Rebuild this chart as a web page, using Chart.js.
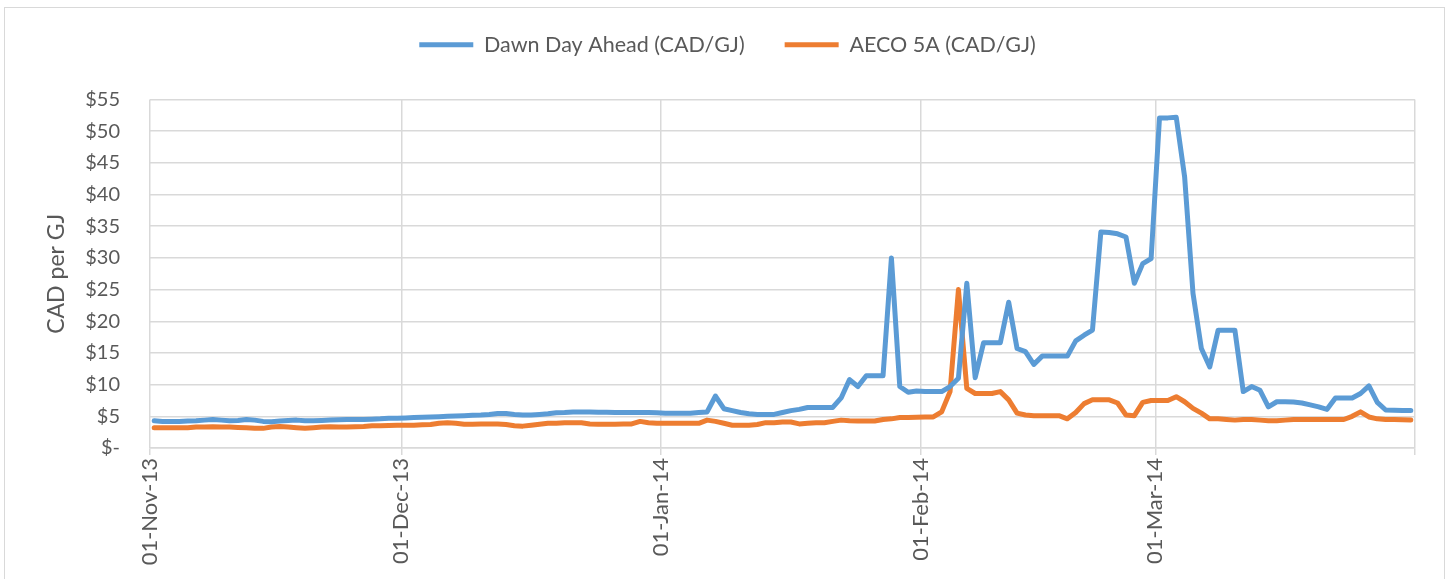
<!DOCTYPE html>
<html>
<head>
<meta charset="utf-8">
<script src="https://cdn.jsdelivr.net/npm/chart.js@4.4.1/dist/chart.umd.min.js"></script>
<style>
  html, body { margin: 0; padding: 0; background: #fff; overflow: hidden; }
  .frame { position: absolute; left: 4px; top: 7px; width: 1439px; height: 620px; border: 1px solid #d9d9d9; }
  #chart { position: absolute; left: 0; top: 0; }
</style>
</head>
<body>
<div class="frame"></div>
<canvas id="chart" width="1449" height="579"></canvas>
<script>
// daily prices, 01-Nov-13 .. 31-Mar-14
var dawn = [
  4.3, 4.2, 4.2, 4.2, 4.25, 4.3, 4.4, 4.5, 4.4, 4.3, 4.35, 4.5, 4.4, 4.2, 4.15, 4.25, 4.35, 4.4, 4.3, 4.3, 4.35, 4.4, 4.45, 4.5, 4.5, 4.5, 4.55, 4.6, 4.7, 4.7,
  4.75, 4.8, 4.85, 4.9, 4.95, 5.0, 5.05, 5.1, 5.15, 5.2, 5.3, 5.45, 5.45, 5.3, 5.2, 5.2, 5.3, 5.4, 5.55, 5.6, 5.7, 5.7, 5.7, 5.65, 5.65, 5.6, 5.6, 5.6, 5.6, 5.6, 5.55,
  5.5, 5.5, 5.5, 5.5, 5.6, 5.7, 8.2, 6.2, 5.9, 5.6, 5.4, 5.3, 5.3, 5.3, 5.6, 5.9, 6.1, 6.4, 6.4, 6.4, 6.4, 7.9, 10.8, 9.7, 11.4, 11.4, 11.4, 30.0, 9.7, 8.8, 9.0,
  8.9, 8.9, 8.9, 9.7, 11.0, 26.0, 11.1, 16.6, 16.6, 16.6, 23.0, 15.7, 15.2, 13.2, 14.5, 14.5, 14.5, 14.5, 16.9, 17.8, 18.6, 34.1, 34.0, 33.8, 33.3, 26.0, 29.1, 29.9,
  52.1, 52.1, 52.2, 42.8, 24.4, 15.7, 12.8, 18.6, 18.6, 18.6, 8.9, 9.7, 9.1, 6.5, 7.3, 7.3, 7.25, 7.1, 6.8, 6.5, 6.1, 7.9, 7.9, 7.9, 8.6, 9.8, 7.2, 6.0, 5.95, 5.9, 5.9
];
var aeco = [
  3.2, 3.2, 3.2, 3.2, 3.2, 3.3, 3.3, 3.35, 3.3, 3.3, 3.25, 3.2, 3.1, 3.1, 3.3, 3.4, 3.3, 3.2, 3.1, 3.2, 3.3, 3.35, 3.3, 3.3, 3.35, 3.4, 3.5, 3.5, 3.55, 3.6,
  3.6, 3.6, 3.65, 3.7, 3.9, 4.0, 3.9, 3.75, 3.75, 3.8, 3.8, 3.8, 3.7, 3.5, 3.45, 3.6, 3.75, 3.9, 3.9, 4.0, 4.0, 4.0, 3.8, 3.75, 3.75, 3.75, 3.8, 3.8, 4.2, 4.0, 3.9,
  3.9, 3.9, 3.9, 3.9, 3.9, 4.4, 4.2, 3.9, 3.6, 3.6, 3.6, 3.7, 4.0, 4.0, 4.1, 4.1, 3.8, 3.9, 4.0, 4.0, 4.2, 4.4, 4.3, 4.25, 4.25, 4.25, 4.5, 4.6, 4.8, 4.8, 4.85,
  4.9, 4.9, 5.7, 8.9, 25.0, 9.4, 8.6, 8.6, 8.6, 8.9, 7.6, 5.5, 5.2, 5.1, 5.1, 5.1, 5.1, 4.6, 5.6, 7.0, 7.6, 7.6, 7.6, 7.1, 5.2, 5.1, 7.2, 7.5,
  7.5, 7.5, 8.1, 7.3, 6.25, 5.5, 4.6, 4.6, 4.5, 4.4, 4.5, 4.5, 4.4, 4.3, 4.3, 4.4, 4.5, 4.5, 4.5, 4.5, 4.5, 4.5, 4.5, 5.0, 5.7, 4.9, 4.6, 4.5, 4.5, 4.45, 4.4
];
var seriesNames = ["Dawn Day Ahead (CAD/GJ)", "AECO 5A (CAD/GJ)"];
var months = ["Jan", "Feb", "Mar", "Apr", "May", "Jun", "Jul", "Aug", "Sep", "Oct", "Nov", "Dec"];

var blue = "#5b9bd5";
var orange = "#ed7d31";
var gridColor = "#d9d9d9";
var textColor = "#595959";

// one category per day
var dates = [];
for (var i = 0; i < dawn.length; i++) {
    var d = new Date(2013, 10, 1 + i);
    var dd = d.getDate() < 10 ? "0" + d.getDate() : "" + d.getDate();
    dates.push(dd + "-" + months[d.getMonth()] + "-" + String(d.getFullYear()).slice(2));
}

function isMonthStart(label) {
    return label && label.indexOf("01-") === 0;
}

// more room under the legend, and centre it on the whole canvas
var legendSpace = {
    id: "legendSpace",
    afterInit: function(chart) {
        var fit = chart.legend.fit;
        chart.legend.fit = function() {
            fit.call(this);
            this.height += 34;
        };
    },
    afterLayout: function(chart) {
        chart.legend.left += 20;
        chart.legend.right += 20;
    }
};

new Chart(document.getElementById("chart"), {
    type: "line",
    data: {
        labels: dates,
        datasets: [{
            label: seriesNames[0],
            data: dawn,
            borderColor: blue,
            backgroundColor: blue,
            borderWidth: 5,
            pointRadius: 0,
            tension: 0,
            borderJoinStyle: "round",
            borderCapStyle: "round"
        }, {
            label: seriesNames[1],
            data: aeco,
            borderColor: orange,
            backgroundColor: orange,
            borderWidth: 5,
            pointRadius: 0,
            tension: 0,
            borderJoinStyle: "round",
            borderCapStyle: "round"
        }]
    },
    plugins: [legendSpace],
    options: {
        responsive: false,
        devicePixelRatio: 1,
        animation: false,
        layout: { padding: { top: -6, right: 34, bottom: 0, left: 0 } },
        plugins: {
            tooltip: { enabled: false },
            legend: {
                position: "top",
                labels: {
                    boxWidth: 54,
                    boxHeight: 5,
                    padding: 40,
                    color: textColor,
                    font: { family: "Lato", size: 21.5 },
                    generateLabels: function(chart) {
                        var items = Chart.defaults.plugins.legend.labels.generateLabels(chart);
                        items.forEach(function(it) { it.lineWidth = 0; });
                        return items;
                    }
                }
            }
        },
        scales: {
            x: {
                type: "category",
                offset: true,
                afterFit: function(scale) { scale.height = 131; },
                grid: {
                    offset: true,
                    lineWidth: 1.5,
                    tickLength: 7,
                    color: function(ctx) {
                        if (ctx.type !== "tick") return gridColor;
                        return isMonthStart(dates[ctx.index]) ? gridColor : "rgba(0,0,0,0)";
                    }
                },
                border: { color: gridColor, width: 1.5 },
                ticks: {
                    autoSkip: false,
                    minRotation: 90,
                    maxRotation: 90,
                    labelOffset: -4.19,
                    padding: 3,
                    color: textColor,
                    font: { family: "Lato", size: 22 },
                    callback: function(value) {
                        var lbl = this.getLabelForValue(value);
                        return isMonthStart(lbl) ? lbl : "";
                    }
                }
            },
            y: {
                min: 0,
                max: 55,
                afterFit: function(scale) { scale.width = 150; },
                grid: { color: gridColor, lineWidth: 1.5, drawTicks: false },
                border: { display: false },
                title: {
                    display: true,
                    text: "CAD per GJ",
                    color: textColor,
                    font: { family: "Lato", size: 23 },
                    padding: { top: 43, bottom: 0 }
                },
                ticks: {
                    stepSize: 5,
                    padding: 30,
                    color: textColor,
                    font: { family: "Lato", size: 20 },
                    callback: function(v) { return v === 0 ? "$-" : "$" + v; }
                }
            }
        }
    }
});
</script>
</body>
</html>
